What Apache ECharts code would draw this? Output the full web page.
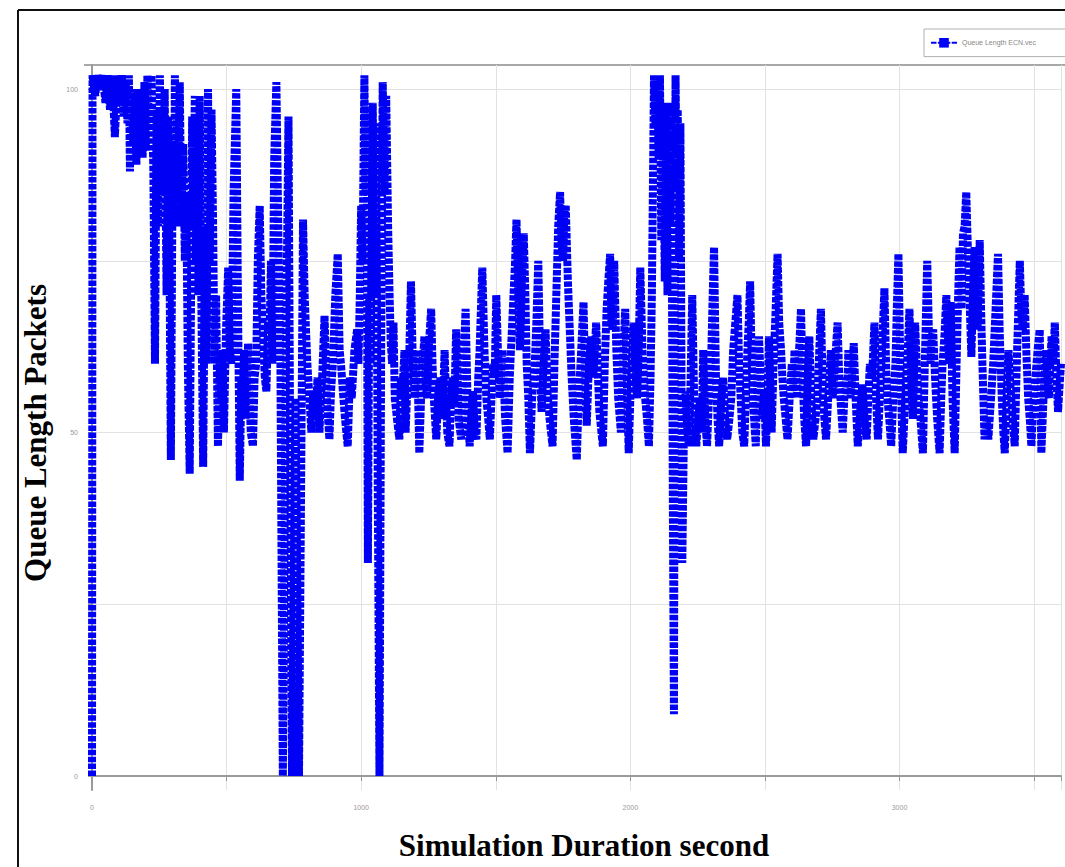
<!DOCTYPE html>
<html>
<head>
<meta charset="utf-8">
<script src="https://cdn.jsdelivr.net/npm/echarts@6/dist/echarts.min.js"></script>
<style>
html,body{margin:0;padding:0;background:#fff;}
#c{width:1065px;height:867px;}
</style>
</head>
<body>
<div id="c"></div>
<script>
// ---- data: [time (s), queue length (packets)] ----
const segStart = [
[0,0],[2,102],[12,99],[20,102],[30,100],[40,102],[50,98],[58,102],[67,97],[75,102],[85,93],[95,102],[103,98],[110,102],[118,96],[125,101],[132,95],[137,102],[141,88],[147,100],[153,92],[160,99],[165,89],[170,100],[176,93],[182,99],[188,90],[195,101],[200,91],[206,102],[212,94],[221,102],[228,88],[234,60],[240,97],[246,80],[252,102],[258,90],[264,85],[270,100],[277,70],[283,96],[288,75],[293,46],[300,92],[305,80],[308,102],[312,88],[316,96],[320,84],[326,101],[332,80],[339,92],[345,75],[350,85],[356,60],[363,44],[368,70],[372,96],[377,80],[382,99],[386,75],[390,90],[395,70],[400,99],[406,70],[413,45],[420,80],[425,60],[431,100],[437,75],[444,97],[450,80],[455,60],[461,70],[468,48],[474,60],[480,55],[485,62],[490,50],[498,65],[506,74],[512,62],[518,60],[526,85],[536,100],[542,70],[549,43],[555,58],[560,55],[565,62],[570,52],[580,63],[585,55],[590,50],[598,48],[604,58],[610,60],[616,75],[623,83],[629,70],[635,65],[642,58],[648,56],[654,66],[660,65],[665,75],[670,60],[677,90],[685,101],[692,80],[700,60]
];
const segDips = [
[709,0],[720,60],[730,96],[736,50],[743,0],[756,55],[769,0],[784,81],[790,70],[800,60],[808,55],[815,50],[822,56],[830,52],[838,58],[845,50],[850,55],[855,58],[864,67],[872,55],[882,49],[888,56],[895,60],[904,70],[913,76],[920,62],[925,60],[932,56],[940,52],[950,48],[958,58],[965,55],[975,62],[985,65],[990,60],[995,70],[1000,83],[1005,75],[1012,102],[1016,85],[1020,97],[1025,31],[1030,70],[1035,60],[1043,98],[1048,70],[1055,95],[1062,40],[1068,0],[1074,60],[1080,101],[1087,85],[1093,99],[1100,80],[1105,71],[1110,63],[1115,60],[1120,66],[1125,55],[1133,52],[1142,49],[1148,58],[1152,55],[1161,62],[1165,50],[1170,55],[1178,60]
];
const segMid = [
[1185,72],[1192,60],[1200,55],[1208,62],[1216,47],[1225,58],[1235,64],[1240,57],[1245,55],[1252,63],[1260,68],[1265,60],[1270,55],[1279,49],[1287,56],[1295,58],[1302,52],[1310,62],[1315,55],[1320,50],[1328,48],[1334,55],[1340,58],[1346,54],[1353,65],[1358,58],[1362,52],[1372,49],[1380,60],[1388,68],[1395,55],[1403,48],[1410,53],[1415,56],[1422,50],[1428,49],[1435,58],[1440,62],[1450,74],[1458,62],[1465,55],[1472,52],[1478,49],[1484,55],[1490,60],[1496,58],[1502,70],[1508,62],[1515,55],[1520,58],[1525,62],[1535,52],[1544,47],[1552,58],[1560,65],[1566,70],[1572,75],[1577,81],[1584,70],[1590,62],[1597,72],[1604,79],[1610,70],[1615,60],[1621,55],[1627,47],[1635,55],[1645,60],[1651,66],[1658,75],[1664,62],[1670,53],[1678,60],[1685,65],[1692,56],[1700,52],[1711,48],[1718,60],[1725,70],[1732,80],[1739,85],[1744,78],[1750,75],[1755,82],[1760,83],[1768,72],[1775,65],[1782,58],[1790,52],[1801,46],[1808,55],[1815,60],[1826,69],[1832,58],[1838,51],[1846,60],[1855,64],[1862,58],[1868,62],[1873,66],[1880,58],[1885,53],[1898,48],[1905,60],[1912,68],[1918,72],[1925,76],[1930,66],[1935,65],[1940,75],[1948,62],[1955,55],[1965,50],[1972,60],[1981,68],[1988,56],[1994,47],[2000,55],[2005,60],[2013,66],[2018,60],[2025,55],[2031,62],[2037,74],[2045,62],[2055,55],[2062,52],[2069,48],[2075,58]
];
const segBurst = [
[2080,70],[2088,102],[2093,95],[2100,102],[2105,90],[2110,102],[2115,78],[2122,95],[2128,72],[2133,98],[2138,70],[2144,96],[2148,80],[2152,98],[2158,40],[2162,9],[2166,80],[2168,102],[2172,85],[2176,97],[2181,75],[2186,95],[2193,31],[2199,50],[2205,56],[2212,50],[2218,48],[2224,58],[2230,70],[2237,55],[2245,48],[2252,52],[2260,55],[2265,50],[2271,62],[2278,52],[2285,48],[2292,55],[2300,60],[2306,70],[2311,77],[2318,58],[2324,52],[2330,48],[2338,55],[2345,58],[2352,52],[2360,49],[2368,52],[2375,55],[2382,62]
];
const segLate = [
[2398,70],[2404,60],[2410,55],[2416,50],[2423,48],[2430,56],[2435,62],[2440,66],[2445,72],[2450,62],[2455,55],[2460,52],[2466,48],[2472,58],[2478,64],[2484,58],[2490,52],[2497,56],[2504,48],[2510,55],[2515,64],[2520,57],[2525,50],[2532,60],[2540,68],[2547,76],[2553,66],[2560,62],[2565,58],[2570,55],[2577,52],[2584,49],[2592,55],[2600,60],[2605,56],[2610,62],[2615,58],[2620,55],[2627,62],[2634,68],[2640,58],[2646,52],[2653,48],[2659,58],[2665,64],[2672,55],[2680,49],[2688,52],[2695,55],[2700,60],[2708,68],[2715,56],[2721,52],[2727,49],[2735,55],[2740,58],[2745,62],[2752,55],[2760,60],[2770,66],[2776,58],[2782,54],[2789,50],[2795,55],[2800,58],[2805,55],[2810,62],[2818,55],[2824,58],[2830,63],[2837,55],[2845,48],[2852,52],[2862,57],[2870,52],[2878,49],[2884,55],[2890,60],[2898,58],[2907,66],[2913,55],[2920,49],[2928,56],[2935,62],[2944,71],[2950,60],[2955,55],[2962,52],[2969,48],[2977,55],[2985,60],[2990,68],[2996,76],[3003,60],[3012,47],[3018,52],[3025,58],[3031,62],[3037,68],[3043,58],[3050,52],[3058,66],[3064,60],[3070,55],[3078,52],[3087,47],[3094,60],[3103,75],[3109,65],[3115,60],[3120,64],[3125,65],[3132,58],[3140,52],[3149,47],[3155,55],[3160,60],[3167,64],[3174,70],[3180,64],[3185,60],[3190,69],[3197,55],[3205,47],[3212,60],[3218,70],[3223,77],[3230,68],[3236,79],[3242,80],[3248,85],[3253,78],[3258,72],[3263,66],[3267,61],[3273,70],[3279,77],[3285,70],[3290,65],[3298,78],[3303,68],[3308,60],[3316,49],[3323,52],[3330,49],[3340,55],[3348,60],[3357,68],[3366,76],[3372,65],[3380,55],[3386,50],[3391,47],[3398,55],[3405,62],[3410,58],[3415,55],[3421,52],[3428,48],[3437,62],[3447,75],[3452,68],[3458,65],[3465,70],[3471,62],[3478,55],[3484,52],[3490,48],[3497,54],[3505,58],[3513,62],[3521,65],[3527,47],[3535,55],[3545,62],[3550,58],[3555,55],[3560,60],[3565,64],[3571,60],[3577,66],[3583,58],[3589,53],[3595,57],[3600,60]
];
const yLabels = ['0', '50', '100'];
const xLabels = ['0', '1000', '2000', '3000'];
const seriesName = 'Queue Length ECN.vec';
const xTitle = 'Simulation Duration second';
const yTitle = 'Queue Length Packets';

const data = [].concat(segStart, segDips, segMid, segBurst, segLate);

const chart = echarts.init(document.getElementById('c'), null, {renderer: 'svg'});
chart.setOption({
  animation: false,
  backgroundColor: '#fff',
  grid: [
    {left: 92, right: 4, top: 65, bottom: 77},
    {left: 92, right: 4, top: 89, bottom: 91}
  ],
  xAxis: [
    {
      gridIndex: 0, type: 'value', min: 0, max: 3600, interval: 500,
      axisLine: {show: true, lineStyle: {color: '#9a9a9a', width: 2}},
      axisTick: {show: true, length: 5, lineStyle: {color: '#9a9a9a'}},
      axisLabel: {
        color: '#999', fontSize: 7, margin: 14, fontFamily: 'Liberation Sans',
        formatter: v => (xLabels.indexOf(String(v)) >= 0 ? String(v) : '')
      },
      splitLine: {show: true, lineStyle: {color: '#e2e2e2', width: 1}}
    },
    {gridIndex: 1, type: 'value', min: 0, max: 3600, show: false}
  ],
  yAxis: [
    {
      gridIndex: 0, type: 'value', min: -2.04, max: 103.5, offset: 8,
      axisLine: {show: true, lineStyle: {color: '#9a9a9a', width: 2}},
      axisTick: {show: false}, axisLabel: {show: false}, splitLine: {show: false}
    },
    {
      gridIndex: 1, type: 'value', min: 0, max: 100, interval: 25, offset: 8,
      axisLine: {show: false},
      axisTick: {show: true, length: 4, lineStyle: {color: '#9a9a9a'}},
      axisLabel: {
        color: '#999', fontSize: 7, margin: 6, fontFamily: 'Liberation Sans',
        formatter: v => (yLabels.indexOf(String(v)) >= 0 ? String(v) : '')
      },
      splitLine: {show: true, lineStyle: {color: '#e2e2e2', width: 1}}
    }
  ],
  legend: {
    left: 924, top: 29,
    itemWidth: 26, itemHeight: 12,
    padding: [9, 80, 9, 6],
    borderColor: '#b0b0b0', borderWidth: 1,
    textStyle: {color: '#888', fontSize: 7, fontFamily: 'Liberation Sans'},
    data: [seriesName]
  },
  series: [{
    name: seriesName,
    type: 'line',
    xAxisIndex: 0, yAxisIndex: 0,
    data: data,
    symbol: 'rect', symbolSize: 9, showSymbol: false,
    sampling: 'none',
    itemStyle: {color: '#0000f5'},
    lineStyle: {color: '#0000f5', width: 8, type: [5.5, 1.4], cap: 'butt', join: 'miter'}
  }],
  graphic: [
    {type: 'line', shape: {x1: 18, y1: 10, x2: 18, y2: 867}, style: {stroke: '#111', lineWidth: 2}},
    {type: 'line', shape: {x1: 18, y1: 10, x2: 1065, y2: 10}, style: {stroke: '#111', lineWidth: 2}},
    {type: 'line', shape: {x1: 84, y1: 65, x2: 1065, y2: 65}, style: {stroke: '#a8a8a8', lineWidth: 2}},
    {type: 'text', x: 584, y: 845,
     style: {text: xTitle, fill: '#000', font: 'bold 31px "Liberation Serif"', textAlign: 'center', textVerticalAlign: 'middle'}},
    {type: 'text', x: 35, y: 433, rotation: Math.PI / 2,
     style: {text: yTitle, fill: '#000', font: 'bold 31px "Liberation Serif"', textAlign: 'center', textVerticalAlign: 'middle'}}
  ]
});
</script>
</body>
</html>
